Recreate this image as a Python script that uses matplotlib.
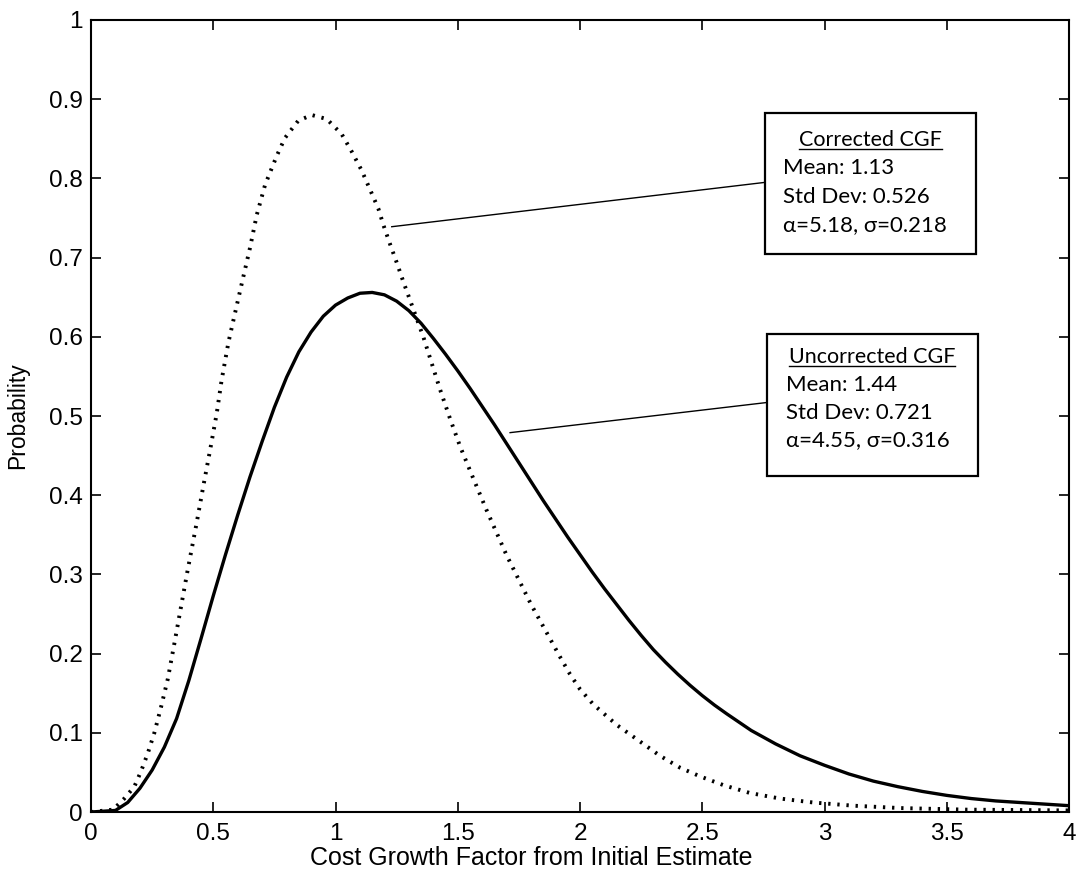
import matplotlib
matplotlib.use('Agg')
import matplotlib.pyplot as plt
from matplotlib.patches import Rectangle
from matplotlib.lines import Line2D

plt.rcParams['font.family'] = ['Liberation Sans', 'DejaVu Sans']

# uncorrected CGF (solid curve)
solid_x = [0, 0.1, 0.15, 0.2, 0.25, 0.3, 0.35, 0.4, 0.45, 0.5,
           0.55, 0.6, 0.65, 0.7, 0.75, 0.8, 0.85, 0.9, 0.95, 1.0,
           1.05, 1.1, 1.15, 1.2, 1.25, 1.3, 1.35, 1.4, 1.45, 1.5,
           1.55, 1.6, 1.65, 1.7, 1.75, 1.8, 1.85, 1.9, 1.95, 2.0,
           2.05, 2.1, 2.15, 2.2, 2.25, 2.3, 2.35, 2.4, 2.45, 2.5,
           2.55, 2.6, 2.7, 2.8, 2.9, 3.0, 3.1, 3.2, 3.3, 3.4,
           3.5, 3.6, 3.7, 3.8, 3.9, 4.0]
solid_y = [0, 0.002, 0.012, 0.030, 0.053, 0.082, 0.118, 0.166, 0.219, 0.273,
           0.325, 0.375, 0.423, 0.468, 0.511, 0.549, 0.581, 0.606, 0.626, 0.640,
           0.649, 0.655, 0.656, 0.653, 0.645, 0.633, 0.617, 0.598, 0.578, 0.557,
           0.535, 0.512, 0.489, 0.465, 0.441, 0.417, 0.393, 0.370, 0.347, 0.325,
           0.303, 0.282, 0.262, 0.242, 0.223, 0.205, 0.189, 0.174, 0.160, 0.147,
           0.135, 0.124, 0.103, 0.086, 0.071, 0.059, 0.048, 0.039, 0.032, 0.026,
           0.021, 0.017, 0.014, 0.012, 0.010, 0.008]

# corrected CGF (dotted curve)
dot_x = [0, 0.09, 0.136, 0.177, 0.204, 0.232, 0.259, 0.286, 0.314, 0.341,
         0.368, 0.395, 0.432, 0.459, 0.487, 0.514, 0.534, 0.562, 0.589, 0.62,
         0.65, 0.678, 0.712, 0.759, 0.793, 0.848, 0.903, 0.964, 1.025, 1.066,
         1.107, 1.141, 1.175, 1.196, 1.223, 1.25, 1.278, 1.318, 1.359, 1.393,
         1.427, 1.468, 1.509, 1.557, 1.618, 1.7, 1.8, 1.877, 1.918, 1.959,
         2.0, 2.054, 2.15, 2.25, 2.327, 2.409, 2.491, 2.586, 2.695, 2.818,
         2.954, 3.117, 3.309, 3.581, 4.0]
dot_y = [0, 0.003, 0.017, 0.032, 0.051, 0.074, 0.100, 0.132, 0.168, 0.213,
         0.259, 0.305, 0.365, 0.411, 0.457, 0.503, 0.545, 0.593, 0.630, 0.672,
         0.712, 0.754, 0.792, 0.828, 0.851, 0.873, 0.880, 0.875, 0.856, 0.834,
         0.810, 0.786, 0.762, 0.741, 0.717, 0.694, 0.669, 0.635, 0.600, 0.567,
         0.534, 0.497, 0.462, 0.426, 0.381, 0.324, 0.262, 0.219, 0.196, 0.174,
         0.155, 0.136, 0.110, 0.088, 0.071, 0.056, 0.045, 0.034, 0.024, 0.017,
         0.012, 0.008, 0.005, 0.003, 0.002]

x_ticks = [0, 0.5, 1, 1.5, 2, 2.5, 3, 3.5, 4]
x_labels = ['0', '0.5', '1', '1.5', '2', '2.5', '3', '3.5', '4']
y_ticks = [0, 0.1, 0.2, 0.3, 0.4, 0.5, 0.6, 0.7, 0.8, 0.9, 1]
y_labels = ['0', '0.1', '0.2', '0.3', '0.4', '0.5', '0.6', '0.7', '0.8', '0.9', '1']

box_titles = ['Corrected CGF', 'Uncorrected CGF']
box_lines = [['Mean: 1.13', 'Std Dev: 0.526', 'α=5.18, σ=0.218'],
             ['Mean: 1.44', 'Std Dev: 0.721', 'α=4.55, σ=0.316']]

fig = plt.figure(figsize=(10.76, 8.77), dpi=100)
ax = fig.add_axes([0.0846, 0.0741, 0.9089, 0.9031])

ax.plot(dot_x, dot_y, color='black', lw=2.8, linestyle=(0, (0.6, 1.75)),
        dash_capstyle='butt')
ax.plot(solid_x, solid_y, color='black', lw=2.4)

ax.set_xlim(0, 4)
ax.set_ylim(0, 1)
ax.set_xticks(x_ticks)
ax.set_xticklabels(x_labels)
ax.set_yticks(y_ticks)
ax.set_yticklabels(y_labels)
ax.tick_params(direction='in', length=7, width=1.2, top=True, right=True,
               labelsize=17.5, colors='black')
ax.tick_params(axis='x', pad=8)
ax.tick_params(axis='y', pad=6)
for s in ax.spines.values():
    s.set_linewidth(1.5)

ax.set_xlabel('Cost Growth Factor from Initial Estimate', fontsize=18)
ax.xaxis.set_label_coords(0.450, -0.043)
ax.set_ylabel('Probability', fontsize=16.5)
ax.yaxis.set_label_coords(-0.063, 0.5)

# annotation boxes: (left, bottom, right, top) in data units
boxes = [(2.757, 0.705, 3.620, 0.882), (2.763, 0.424, 3.627, 0.604)]
leader_from = [(1.23, 0.739), (1.714, 0.479)]
leader_to = [(2.757, 0.795), (2.763, 0.517)]
title_y = [0.848, 0.574]
line_ys = [[0.813, 0.777, 0.741], [0.539, 0.504, 0.469]]
text_left = [2.832, 2.843]

box_font = ['Lato', 'DejaVu Sans']
titles = []
for i in range(2):
    l, b, r, t = boxes[i]
    ax.add_patch(Rectangle((l, b), r - l, t - b, fill=True, facecolor='white',
                           edgecolor='black', lw=1.6, zorder=5))
    ax.plot([leader_from[i][0], leader_to[i][0]],
            [leader_from[i][1], leader_to[i][1]], color='black', lw=1.0, zorder=4)
    tt = ax.text((l + r) / 2, title_y[i], box_titles[i], ha='center', va='center',
                 fontsize=15.5, family=box_font, zorder=6)
    titles.append(tt)
    for j, s in enumerate(box_lines[i]):
        ax.text(text_left[i], line_ys[i][j], s, ha='left', va='center',
                fontsize=16, family=box_font, zorder=6)

# underline the box titles
fig.canvas.draw()
r = fig.canvas.get_renderer()
for tt in titles:
    bb = tt.get_window_extent(renderer=r)
    fig.add_artist(Line2D([bb.x0, bb.x1], [bb.y0 + 1, bb.y0 + 1], transform=None,
                          color='black', lw=1.0))

plt.savefig('out.png', dpi=100)
